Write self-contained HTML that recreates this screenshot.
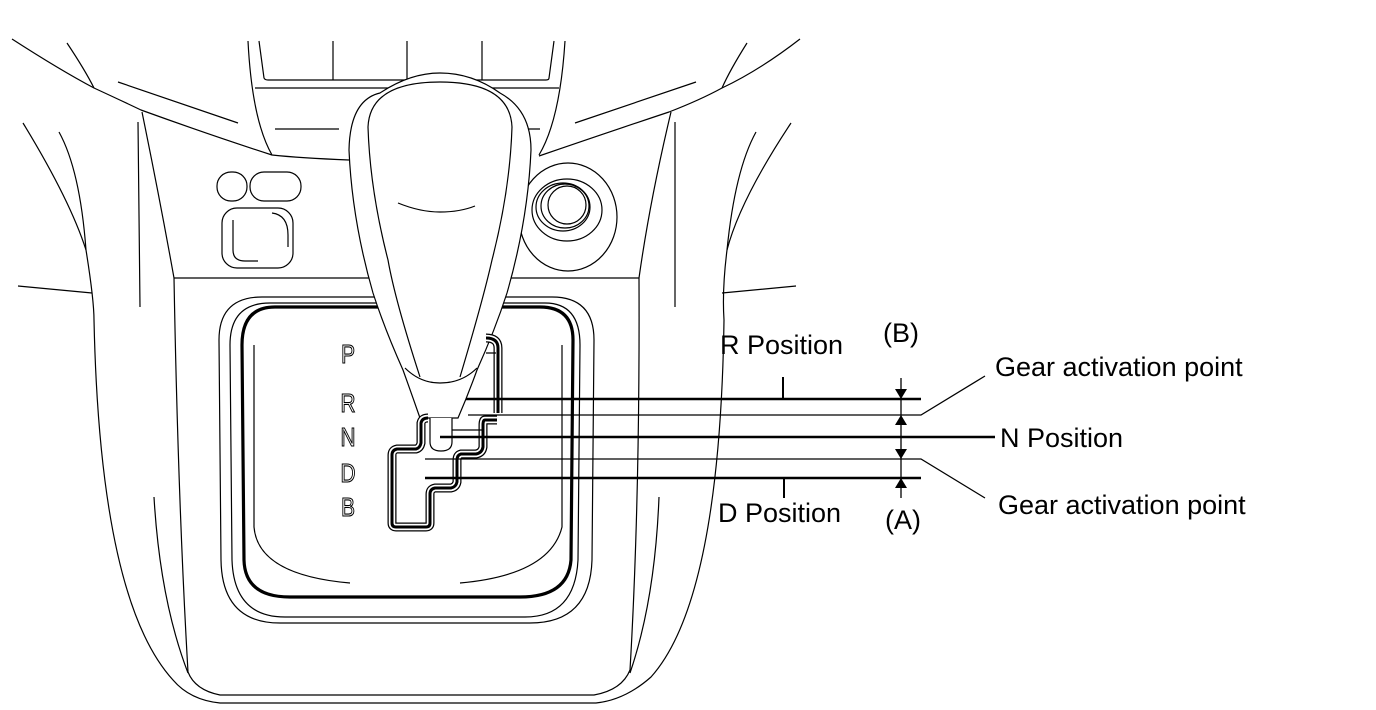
<!DOCTYPE html>
<html><head><meta charset="utf-8"><style>
html,body{margin:0;padding:0;background:#fff;}
svg{display:block;}
text{font-family:"Liberation Sans",Arial,sans-serif;}
</style></head><body>
<svg width="1376" height="710" viewBox="0 0 1376 710" xmlns="http://www.w3.org/2000/svg">
<g fill="none" stroke="#000" stroke-width="1.2">
<path d="M12,39 Q60,70 94,88 Q120,100 141,110 Q210,135 272,155 Q300,158 349,160"/>
<path d="M800,39 Q760,70 722,88 Q700,100 669,112 Q600,135 539,156"/>
<path d="M67,43 Q85,70 94,88"/>
<path d="M747,43 Q730,70 722,88"/>
<path d="M118,82 L238,123"/>
<path d="M696,82 L575,123"/>
<path d="M248,41 Q252,120 272,155"/>
<path d="M565,41 Q560,120 539,155"/>
<path d="M259,41 L264,78 Q265,80 268,80 L546,80 Q549,80 549,78 L554,41"/>
<path d="M333,41V80 M407,41V80 M482,41V80"/>
<path d="M255,88 H559"/>
<path d="M275,129H339 M523,129H540"/>
<path d="M142,112 Q160,200 174,278 Q178,500 188,672 Q195,690 220,695 L594,695 Q622,690 630,670 Q640,500 639,278 Q650,200 671,112"/>
<path d="M138,122 L140,307 M675,122 L675,307"/>
<path d="M23,123 Q70,200 86,250 Q94,300 94,320 Q100,600 173,680 Q190,700 220,703 L596,703 Q625,700 651,677 Q720,600 724,320 Q722,290 727,250 Q740,200 791,123"/>
<path d="M59,132 Q80,170 86,250 M756,132 Q735,170 727,250"/>
<path d="M18,286 L92,293 M796,286 L722,293"/>
<path d="M154,497 Q160,600 188,673 M659,497 Q655,600 630,673"/>
<path d="M174,278 H370 M510,278 H639"/>
<rect x="217" y="172" width="30" height="29" rx="14" ry="14"/>
<rect x="250" y="172" width="51" height="29" rx="14" ry="14"/>
<rect x="222" y="208" width="71" height="60" rx="15" ry="15"/>
<path d="M272,213 Q288,215 288,235 V247 M233,220 V250 Q233,261 245,261 H258"/>
<ellipse cx="568" cy="217" rx="49" ry="54"/>
<ellipse cx="567" cy="210" rx="35" ry="31"/>
<ellipse cx="563" cy="207" rx="27" ry="24"/>
<ellipse cx="565" cy="206" rx="24" ry="22"/>
<circle cx="567" cy="205" r="19"/>
<path d="M219,340 Q219,297 262,297 L552,297 Q594,297 594,340 L592,560 Q590,623 530,623 L280,623 Q222,623 221,560 Z"/>
<path d="M230,345 Q230,303 270,303 L545,303 Q580,303 580,345 L578,560 Q575,617 525,617 L285,617 Q234,617 232,560 Z"/>
<path d="M254,345 V527 Q258,575 350,583 M460,583 Q550,575 562,527 V345"/>
</g>
<path d="M242,345 Q242,307 275,307 L540,307 Q573,307 573,340 L571,560 Q568,597 520,597 L290,597 Q245,597 244,560 Z" fill="none" stroke="#000" stroke-width="3.2"/>
<g stroke="#000" stroke-width="1.2" fill="#fff">
<path d="M420,418 Q412,395 403,370 Q385,330 373,293 Q352,220 349,150 Q350,100 380,93 Q410,73 440,73 Q472,73 500,93 Q531,110 531,150 Q528,220 507,293 Q495,330 477,370 Q468,395 458,418 Z"/>
</g>
<g fill="none" stroke="#000" stroke-width="1.2">
<path d="M420,377 Q395,300 388,260 Q370,190 368,127 Q370,82 440,82 Q510,82 512,127 Q510,190 492,260 Q483,300 460,377"/>
<path d="M405,368 Q420,383 440,383 Q462,383 477,368"/>
<path d="M398,203 Q420,212 440,212 Q460,212 475,206"/>
</g>
<g fill="none" stroke-linejoin="round">
<path id="g1" d="M486,338 Q498,338 498,348 V413"/>
<path id="g2" d="M497,420 H485 Q483,420 483,425 V447 Q482,453 476,454 H461 Q457,455 457,460 V482 Q456,487 451,488 H435 Q430,489 430,494 V523 Q430,527 426,527 H396 Q392,527 392,523 V455 Q392,450 397,449 H416 Q420,448 421,443 V423 Q422,418 428,418"/>
</g>
<use href="#g1" stroke="#000" stroke-width="9" fill="none"/>
<use href="#g1" stroke="#fff" stroke-width="6.5" fill="none"/>
<use href="#g1" stroke="#000" stroke-width="3" fill="none"/>
<use href="#g2" stroke="#000" stroke-width="9" fill="none"/>
<use href="#g2" stroke="#fff" stroke-width="6.5" fill="none"/>
<use href="#g2" stroke="#000" stroke-width="3" fill="none"/>
<g fill="#fff" stroke="#000" stroke-width="1.2">
<path d="M430,418 V442 Q430,451 441,451 Q452,451 452,442 V418"/>
</g>
<path d="M452,430 H482 M486,353 H496" stroke="#000" stroke-width="1.2"/>
<g font-size="26" fill="#fff" stroke="#000" stroke-width="1.1" text-anchor="middle">
<text transform="translate(348,363) scale(0.8,1)">P</text>
<text transform="translate(348,412) scale(0.8,1)">R</text>
<text transform="translate(348,446) scale(0.8,1)">N</text>
<text transform="translate(348,482) scale(0.8,1)">D</text>
<text transform="translate(348,516) scale(0.8,1)">B</text>
</g>
<g stroke="#000">
<path d="M466,399H921" stroke-width="2.5"/>
<path d="M468,415H921 L985,376" stroke-width="1.3" fill="none"/>
<path d="M440,437H995" stroke-width="2.5"/>
<path d="M425,459H921 L985,498" stroke-width="1.3" fill="none"/>
<path d="M425,478H921" stroke-width="2.5"/>
<path d="M783,377V399 M784,478V498" stroke-width="2"/>
<path d="M901,378V498" stroke-width="1.3"/>
</g>
<g fill="#000">
<path d="M895,389H907L901,399Z"/>
<path d="M895,425H907L901,415Z"/>
<path d="M895,449H907L901,459Z"/>
<path d="M895,488H907L901,478Z"/>
</g>
<g font-size="27" fill="#000">
<text x="720" y="354">R Position</text>
<text x="883" y="342">(B)</text>
<text x="995" y="376">Gear activation point</text>
<text x="1000" y="447">N Position</text>
<text x="718" y="522">D Position</text>
<text x="885" y="529">(A)</text>
<text x="998" y="514">Gear activation point</text>
</g>
</svg>
</body></html>
